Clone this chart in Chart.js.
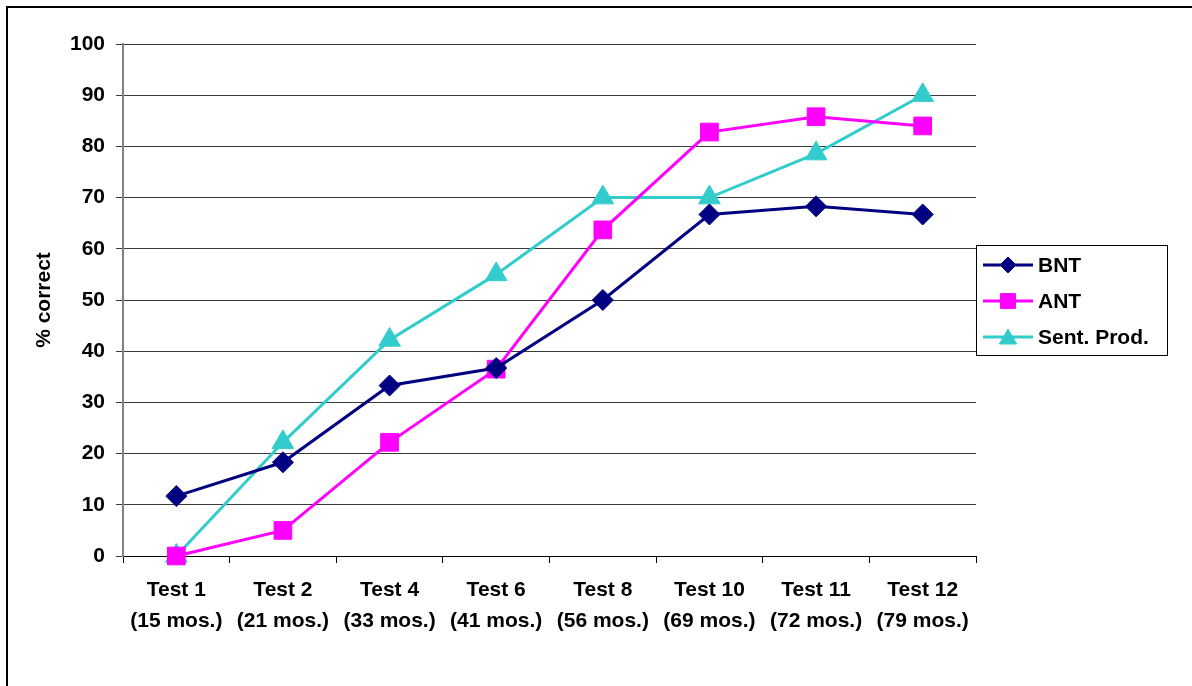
<!DOCTYPE html>
<html>
<head>
<meta charset="utf-8">
<script src="https://cdn.jsdelivr.net/npm/chart.js@4/dist/chart.umd.min.js"></script>
<style>
  html, body { margin: 0; padding: 0; background: #fff; }
  #wrap { width: 1192px; height: 686px; position: relative; }
</style>
</head>
<body>
<div id="wrap"><canvas id="c" width="1192" height="686"></canvas></div>
<script>
// Test sessions (with child age) along the x axis
const categories = [
  ['Test 1', '(15 mos.)'],
  ['Test 2', '(21 mos.)'],
  ['Test 4', '(33 mos.)'],
  ['Test 6', '(41 mos.)'],
  ['Test 8', '(56 mos.)'],
  ['Test 10', '(69 mos.)'],
  ['Test 11', '(72 mos.)'],
  ['Test 12', '(79 mos.)']
];

// Percent correct per measure
const bnt = [11.7, 18.3, 33.3, 36.7, 50.0, 66.7, 68.3, 66.7];
const ant = [0, 5.0, 22.2, 36.5, 63.7, 82.8, 85.8, 84.0];
const sentProd = [0, 22.2, 42.2, 55.0, 70.0, 70.0, 78.6, 90.0];

const yTicks = [0, 10, 20, 30, 40, 50, 60, 70, 80, 90, 100];

const FONT = "'Liberation Sans', Arial, sans-serif";

const seriesStyle = [
  { label: 'BNT', data: bnt, color: '#000080', point: 'rectRot', radius: 10.5 },
  { label: 'ANT', data: ant, color: '#FF00FF', point: 'rect', radius: 12.5 },
  { label: 'Sent. Prod.', data: sentProd, color: '#33CCCC', point: 'triangle', radius: 12.5 }
];

// Outer frame (top and left edges)
const framePlugin = {
  id: 'frame',
  beforeDraw(chart) {
    const ctx = chart.ctx;
    ctx.save();
    ctx.fillStyle = '#fff';
    ctx.fillRect(0, 0, chart.width, chart.height);
    ctx.strokeStyle = '#000';
    ctx.lineWidth = 2;
    ctx.beginPath();
    ctx.moveTo(7, chart.height + 2);
    ctx.lineTo(7, 7);
    ctx.lineTo(chart.width + 2, 7);
    ctx.stroke();
    ctx.restore();
  }
};

// Boxed legend with line + marker samples
const legendPlugin = {
  id: 'boxLegend',
  afterDraw(chart) {
    const ctx = chart.ctx;
    const left = chart.chartArea.right;
    const top = 245;
    const w = 191, h = 110;
    ctx.save();
    ctx.fillStyle = '#fff';
    ctx.fillRect(left, top, w, h);
    ctx.strokeStyle = '#000';
    ctx.lineWidth = 1;
    ctx.strokeRect(left + 0.5, top + 0.5, w, h);
    chart.data.datasets.forEach((ds, i) => {
      const y = top + 20 + i * 36;
      ctx.strokeStyle = ds.borderColor;
      ctx.lineWidth = 3;
      ctx.beginPath();
      ctx.moveTo(left + 7, y);
      ctx.lineTo(left + 57, y);
      ctx.stroke();
      const r = ds.pointStyle === 'triangle' ? 10 : (ds.pointStyle === 'rect' ? 10.5 : 8);
      ctx.fillStyle = ds.backgroundColor;
      ctx.strokeStyle = ds.borderColor;
      ctx.lineWidth = 1;
      Chart.helpers.drawPoint(ctx, { pointStyle: ds.pointStyle, radius: r, borderWidth: 1 }, left + 32, ds.pointStyle === 'triangle' ? y + 2 : y);
      ctx.fillStyle = '#000';
      ctx.font = 'bold 21px ' + FONT;
      ctx.textBaseline = 'middle';
      ctx.textAlign = 'left';
      ctx.fillText(ds.label, left + 62, y + 1);
    });
    ctx.restore();
  }
};

new Chart(document.getElementById('c'), {
  type: 'line',
  data: {
    labels: categories,
    datasets: seriesStyle.map(s => ({
      label: s.label,
      data: s.data,
      borderColor: s.color,
      backgroundColor: s.color,
      borderWidth: 3,
      pointStyle: s.point,
      pointRadius: s.radius,
      pointHoverRadius: s.radius,
      pointBorderWidth: 1,
      tension: 0,
      clip: false
    }))
  },
  options: {
    responsive: false,
    animation: false,
    events: [],
    layout: { padding: { left: 0, top: 44, right: 216, bottom: 0 } },
    plugins: {
      legend: { display: false },
      tooltip: { enabled: false }
    },
    scales: {
      x: {
        type: 'category',
        offset: true,
        grid: {
          offset: true,
          drawOnChartArea: false,
          drawTicks: true,
          tickLength: 7,
          color: '#000'
        },
        border: { color: '#000', width: 1 },
        ticks: {
          color: '#000',
          font: { family: FONT, size: 21, weight: 'bold', lineHeight: 1.5 },
          padding: 11,
          maxRotation: 0,
          autoSkip: false
        },
        afterFit(scale) { scale.height = 130; }
      },
      y: {
        min: 0,
        max: 100,
        afterBuildTicks(scale) { scale.ticks = yTicks.map(v => ({ value: v })); },
        grid: {
          color: '#3a3a3a',
          lineWidth: 1,
          tickLength: 7
        },
        border: { color: '#808080', width: 2 },
        ticks: {
          color: '#000',
          font: { family: FONT, size: 21, weight: 'bold' },
          padding: 11
        },
        title: {
          display: true,
          text: '% correct',
          color: '#000',
          font: { family: FONT, size: 21, weight: 'bold' },
          padding: { top: 32, bottom: 0 }
        },
        afterFit(scale) { scale.width = 123; }
      }
    }
  },
  plugins: [framePlugin, legendPlugin]
});
</script>
</body>
</html>
